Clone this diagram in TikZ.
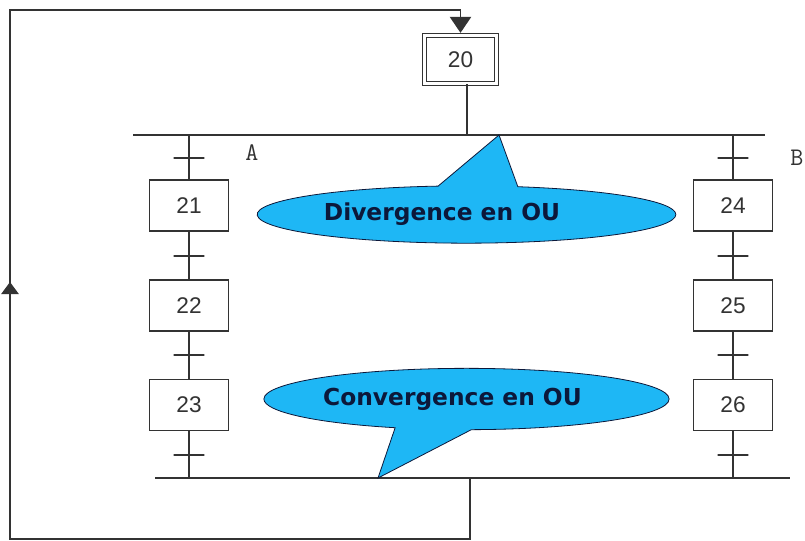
\documentclass[tikz,border=0pt]{standalone}
\usepackage{fontspec}
\setmainfont{Liberation Sans}
\newfontfamily\bullefont{DejaVu Sans}
\usetikzlibrary{shapes.callouts,arrows.meta}
\definecolor{bulle}{RGB}{30,183,245}
\definecolor{encre}{RGB}{12,24,58}
\begin{document}
\begin{tikzpicture}[x=0.75pt,y=-0.75pt,color=black!80,line width=1.1pt,
        etape/.style={rectangle,draw,fill=white,inner sep=0pt,
          minimum width=59pt,minimum height=38pt,font=\fontsize{17}{17}\selectfont},
        initiale/.style={etape,double,double distance=2pt,line width=0.8pt,
          minimum width=54pt,minimum height=36pt},
        trans/.style={rectangle,draw,inner sep=0pt,minimum width=23pt,minimum height=0pt},
        bulle/.style={ellipse callout,draw=encre,line width=0.6pt,fill=bulle,
          inner sep=0pt,text=encre,callout pointer arc=22,
          font=\bullefont\bfseries\fontsize{17.5}{17.5}\selectfont},
        lettre/.style={font=\ttfamily\fontsize{19}{19}\selectfont}]
      \useasboundingbox (0,0) rectangle (805,540);
      \coordinate (divg) at (133,135);
      \coordinate (divd) at (765,135);
      \coordinate (convg) at (155,478);
      \coordinate (convd) at (790,478);
      \coordinate (divsrc) at (467,135);
      \coordinate (convsrc) at (470,478);
      \coordinate (bas) at (470,539);
      \coordinate (basg) at (10,539);
      \coordinate (hautg) at (10,10);
      \coordinate (fleche) at (10,282);
      \coordinate (divpointe) at (499,135);
      \coordinate (convpointe) at (378,478);
      % etapes
      \node (e20) at (460.5,59.5) [initiale] {20};
      \node (e21) at (189,205.5) [etape] {21};
      \node (e22) at (189,305.5) [etape] {22};
      \node (e23) at (189,405) [etape] {23};
      \node (e24) at (733,205.5) [etape] {24};
      \node (e25) at (733,305.5) [etape] {25};
      \node (e26) at (733,405) [etape] {26};
      % barres et liaisons
      \draw (divg) edge[-] (divd);
      \draw (convg) edge[-] (convd);
      \draw (e20.south -| divsrc) edge[-] (divsrc);
      \draw (divg -| e21) edge[-] (e21);
      \draw (e21) edge[-] (e22);
      \draw (e22) edge[-] (e23);
      \draw (e23) edge[-] (convg -| e23);
      \draw (divg -| e24) edge[-] (e24);
      \draw (e24) edge[-] (e25);
      \draw (e25) edge[-] (e26);
      \draw (e26) edge[-] (convg -| e26);
      % transitions
      \node (t1) at (189,158) [trans] {};
      \node (t2) at (189,256) [trans] {};
      \node (t3) at (189,355) [trans] {};
      \node (t4) at (189,455) [trans] {};
      \node (t5) at (733,158) [trans] {};
      \node (t6) at (733,256) [trans] {};
      \node (t7) at (733,355) [trans] {};
      \node (t8) at (733,455) [trans] {};
      % bouclage
      \draw[-{Triangle[width=16pt,length=12pt]},shorten >=1.6pt]
        (convsrc) -- (bas) -- (basg) -- (hautg) -| (e20);
      \draw[-{Triangle[width=13pt,length=9pt]}] (basg) -- (fleche);
      \node (lA) at (252,153) [lettre] {A};
      \node (lB) at (797,158) [lettre] {B};
      % bulles
      \node (divbulle) at (466.5,214.5) [bulle,minimum width=314pt,minimum height=43pt,
        callout absolute pointer={(divpointe)}] {Divergence en OU\hspace*{36.8pt}};
      \node (convbulle) at (466.5,399) [bulle,minimum width=302pt,minimum height=46pt,
        callout absolute pointer={(convpointe)}] {Convergence en OU\hspace*{21pt}};
\end{tikzpicture}
\end{document}
